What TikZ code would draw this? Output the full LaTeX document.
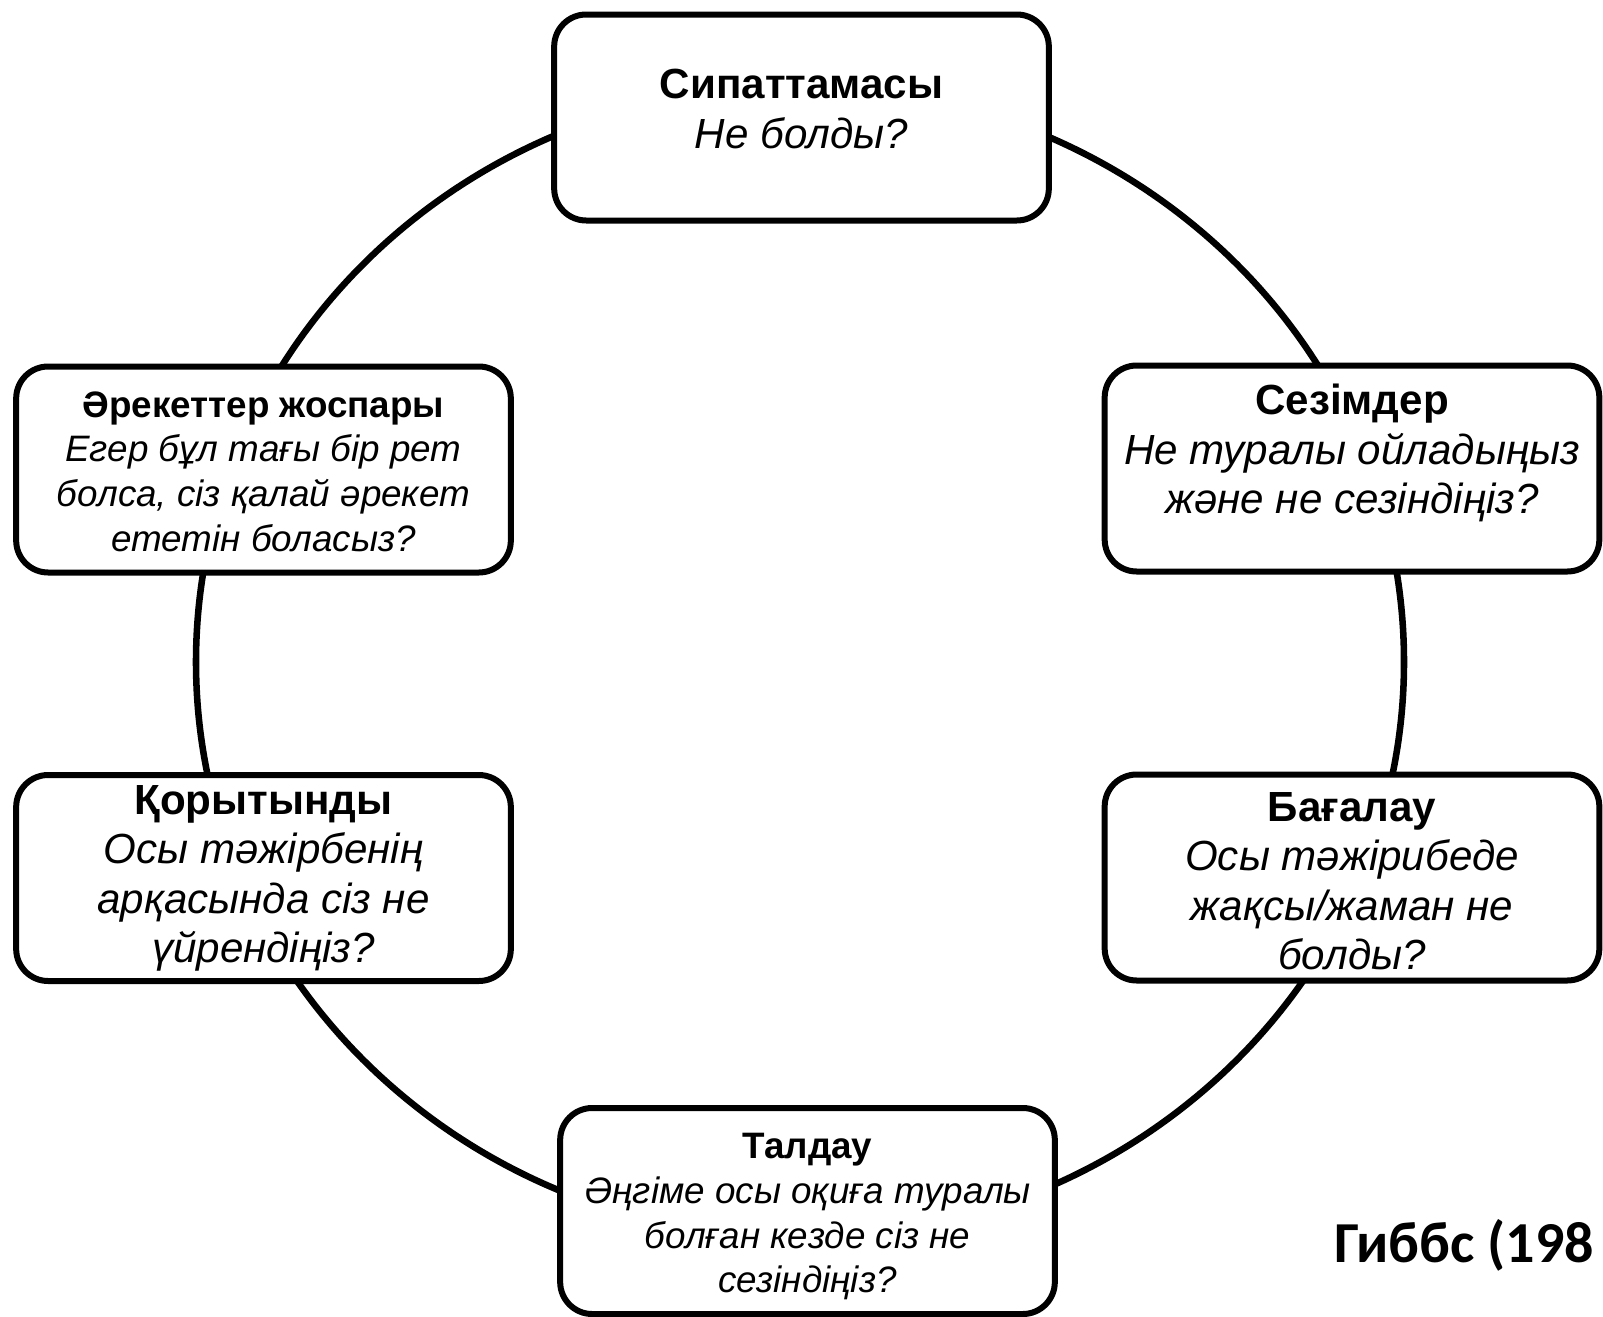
\documentclass[tikz,border=0pt]{standalone}
\usepackage{fontspec}
\setmainfont{Liberation Sans}
\newfontfamily\gibbsfont{Carlito}
\usetikzlibrary{positioning}

\begin{document}
\begin{tikzpicture}[x=0.75pt,y=-0.75pt,
  stage box/.style={draw,line width=4.5pt,rounded corners=24pt,fill=white,
    minimum width=371pt,minimum height=154.5pt,inner sep=0pt,outer sep=0pt},
  big text/.style={align=center,inner sep=0pt,font=\fontsize{31.6pt}{37pt}\selectfont},
  small text/.style={align=center,inner sep=0pt,font=\fontsize{27.6pt}{33.5pt}\selectfont}]
  \fill[white] (0,0) rectangle (1603,1317);
  \useasboundingbox (0,0) rectangle (1603,1317);
  % the cycle
  \coordinate (c) at (800,662);
  \draw[line width=4.9pt] (c) ellipse [x radius=604, y radius=576];
  % stages
  \node[stage box] (sip) at (801.5,117.5) {};
  \node[stage box] (ses) at (1352,468.5) {};
  \node[stage box] (bag) at (1352,877.5) {};
  \node[stage box] (tal) at (807.5,1211) {};
  \node[stage box] (kor) at (263.5,878) {};
  \node[stage box] (ark) at (263.5,469.5) {};
  \node[big text, below=41pt of sip.north] (sipT)
    {\textbf{Сипаттамасы}\\\textit{Не болды?}};
  \node[big text, below=14pt of ses.north] (sesT)
    {\textbf{Сезімдер}\\\textit{Не туралы ойладыңыз}\\\textit{және не сезіндіңіз?}};
  \node[big text, below=13.4pt of bag.north] (bagT)
    {\textbf{Бағалау}\\\textit{Осы тәжірибеде}\\\textit{жақсы/жаман не}\\\textit{болды?}};
  \node[small text, below=19pt of tal.north] (talT)
    {\textbf{Талдау}\\\textit{Әңгіме осы оқиға туралы}\\\textit{болған кезде сіз не}\\\textit{сезіндіңіз?}};
  \node[big text, below=7.8pt of kor.north] (korT)
    {\textbf{Қорытынды}\\\textit{Осы тәжірбенің}\\\textit{арқасында сіз не}\\\textit{үйрендіңіз?}};
  \node[small text, below=18.6pt of ark.north] (arkT)
    {\textbf{Әрекеттер жоспары}\\\textit{Егер бұл тағы бір рет}\\\textit{болса, сіз қалай әрекет}\\\textit{ететін боласыз?}};
  \node[anchor=base west,inner sep=0pt,font=\gibbsfont\bfseries\fontsize{43.5pt}{50pt}\selectfont]
    (gibbs) at (1334,1262) {Гиббс (198};
\end{tikzpicture}
\end{document}
